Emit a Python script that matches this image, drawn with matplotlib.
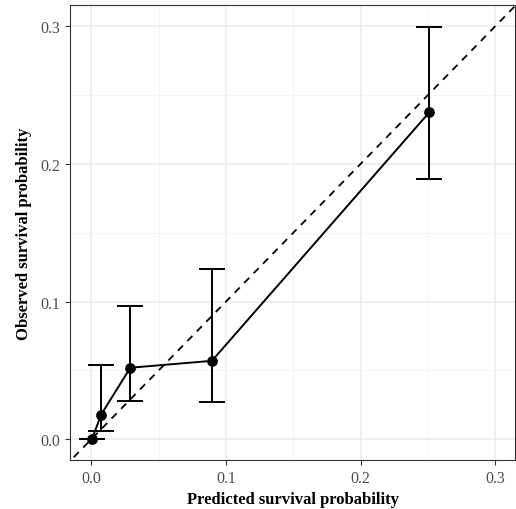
import numpy as np
import matplotlib.pyplot as plt
import matplotlib as mpl

mpl.rcParams['font.family'] = ['Liberation Serif', 'DejaVu Serif']

# calibration groups: predicted vs observed survival
predicted = [0.0005, 0.0074, 0.029, 0.0896, 0.251]
observed = [0.0, 0.018, 0.052, 0.057, 0.2375]
ci_low = [0.0, 0.006, 0.028, 0.027, 0.189]
ci_high = [0.0, 0.054, 0.097, 0.1235, 0.299]
ticks = [0.0, 0.1, 0.2, 0.3]
tick_labels = ['0.0', '0.1', '0.2', '0.3']

fig = plt.figure(figsize=(5.16, 5.10), dpi=100)
ax = fig.add_axes([0.136, 0.096, 0.862, 0.892])

lims = (-0.0156, 0.3145)
ax.set_xlim(lims)
ax.set_ylim(-0.015, 0.3152)

# grid like theme_bw
for v in np.arange(0.05, 0.31, 0.1):
    ax.axvline(v, color='#f2f2f2', lw=0.6, zorder=0)
    ax.axhline(v, color='#f2f2f2', lw=0.6, zorder=0)
for v in ticks:
    ax.axvline(v, color='#ebebeb', lw=1.1, zorder=0)
    ax.axhline(v, color='#ebebeb', lw=1.1, zorder=0)

ax.plot([-0.02, 0.32], [-0.02, 0.32], color='black', ls=(0, (4, 3.5)), lw=1.3, zorder=1)

yerr = [np.array(observed) - np.array(ci_low), np.array(ci_high) - np.array(observed)]
ax.errorbar(predicted, observed, yerr=yerr, fmt='none', ecolor='black',
            elinewidth=1.4, capsize=9.5, capthick=1.4, zorder=2)
ax.plot(predicted, observed, color='black', lw=1.4, zorder=3)
ax.scatter(predicted, observed, s=45, color='black', zorder=4)

ax.set_xticks(ticks)
ax.set_xticklabels(tick_labels)
ax.set_yticks(ticks)
ax.set_yticklabels(tick_labels)
ax.tick_params(colors='#333333', labelcolor='#4d4d4d', labelsize=11.5,
               length=3.5, width=0.8)
for s in ax.spines.values():
    s.set_color('#333333')
    s.set_linewidth(0.8)

ax.set_xlabel('Predicted survival probability', fontweight='bold', fontsize=12, labelpad=4)
ax.set_ylabel('Observed survival probability', fontweight='bold', fontsize=12, labelpad=6)

fig.savefig('out.png', dpi=100)
